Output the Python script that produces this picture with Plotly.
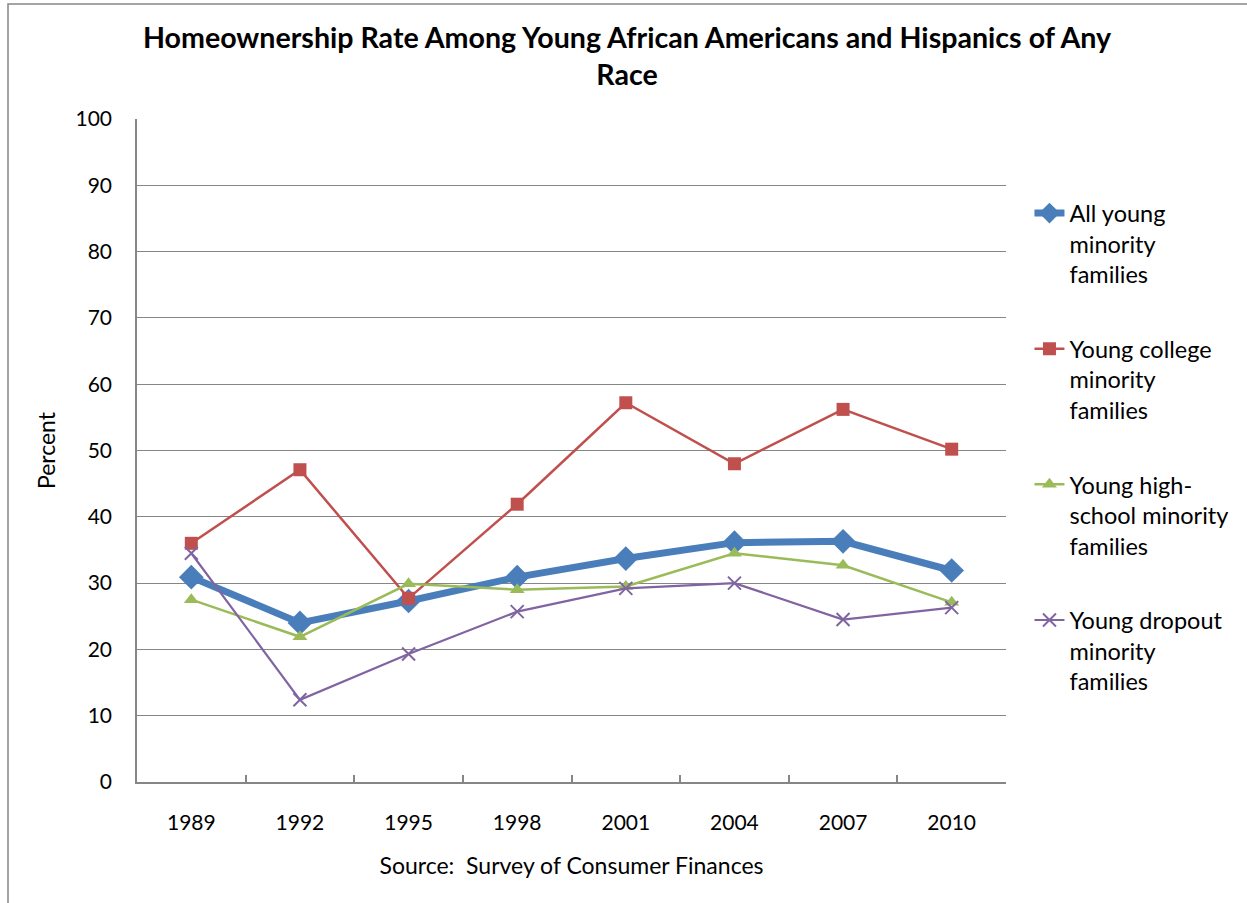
import plotly.graph_objects as go

years = ["1989", "1992", "1995", "1998", "2001", "2004", "2007", "2010"]
all_young = [30.9, 24.0, 27.3, 30.9, 33.7, 36.1, 36.3, 31.9]
college = [36.0, 47.1, 27.7, 41.9, 57.2, 48.0, 56.2, 50.2]
high_school = [27.5, 21.9, 29.9, 29.0, 29.5, 34.5, 32.7, 27.1]
dropout = [34.5, 12.4, 19.3, 25.7, 29.2, 30.0, 24.5, 26.3]

series = [
    ("All young<br>minority<br>families", all_young, "#4A7EBB", 7, "diamond", 19),
    ("Young college<br>minority<br>families", college, "#C0504D", 2.5, "square", 13),
    ("Young high-<br>school minority<br>families", high_school, "#9BBB59", 2.5, "triangle-up", 13),
    ("Young dropout<br>minority<br>families", dropout, "#8064A2", 2.2, "x-thin-open", 13),
]

FONT = "Lato"
fig = go.Figure()
for i, (name, vals, color, lw, sym, ms) in enumerate(series):
    fig.add_trace(go.Scatter(
        x=years, y=vals, name=name, mode="lines+markers",
        legendgroup=f"g{i}",
        line=dict(color=color, width=lw),
        marker=dict(symbol=sym, size=ms, color=color,
                    line=dict(color=color, width=2 if sym.startswith("x") else 0)),
    ))

fig.update_layout(
    width=1247, height=903,
    margin=dict(l=137, r=241, t=119, b=121),
    paper_bgcolor="white", plot_bgcolor="white",
    font=dict(family=FONT, size=23, color="black"),
    title=dict(text="<b>Homeownership Rate Among Young African Americans and Hispanics of Any<br>Race</b>",
               x=(627 - 137) / 869, xref="paper", xanchor="center", y=0.947, yanchor="top",
               font=dict(family=FONT, size=28.6, color="black")),
    legend=dict(x=1.027, y=0.891, xanchor="left", yanchor="top", valign="top",
                font=dict(family=FONT, size=23.5), tracegroupgap=41,
                bgcolor="rgba(0,0,0,0)"),
    showlegend=True,
)
fig.update_xaxes(
    type="category", range=[-0.5, 7.5], showgrid=False,
    showline=True, linecolor="#868686", linewidth=1.5,
    ticks="inside", tickson="boundaries", ticklen=7, tickcolor="#868686", tickwidth=1.5,
    tickfont=dict(size=21), ticklabelstandoff=21,
    title=dict(text="Source:  Survey of Consumer Finances", font=dict(size=23), standoff=25),
)
fig.update_yaxes(
    range=[0, 100], dtick=10, showgrid=True, gridcolor="#868686", gridwidth=1.3,
    showline=True, linecolor="#868686", linewidth=1.5,
    ticks="", tickfont=dict(size=21), zeroline=False, ticklabelstandoff=19,
    title=dict(text="Percent", font=dict(size=23), standoff=13),
)
fig.add_shape(type="rect", xref="paper", yref="paper",
              x0=(8 - 137) / 869, x1=1.4, y0=-0.3, y1=(782 - 4) / 663,
              line=dict(color="#868686", width=1.5), fillcolor="rgba(0,0,0,0)", layer="below")

fig.write_html("out.html")
